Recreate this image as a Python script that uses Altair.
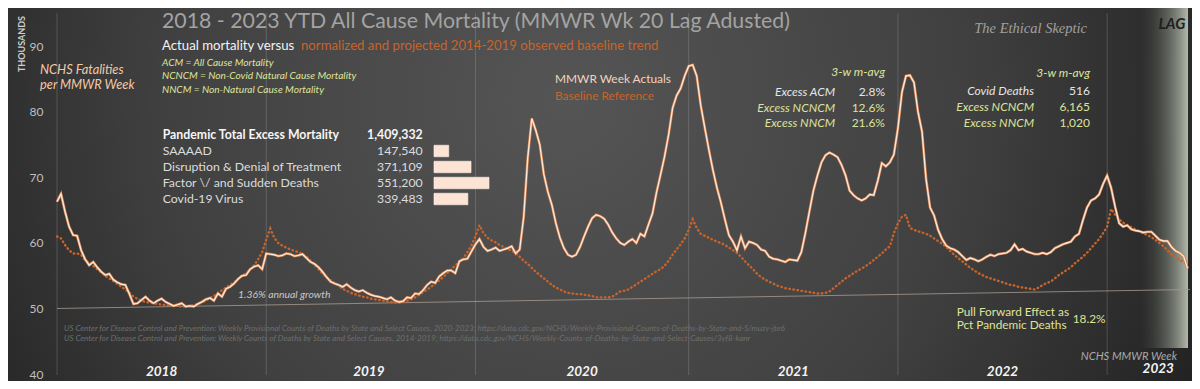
import altair as alt
import pandas as pd

# ---------------- data (thousands of deaths per MMWR week) ----------------
actual_2018 = [66.3, 67.5, 64.8, 62.5, 61.2, 61.1, 58.9, 57.5, 56.6, 57.1,
               56.3, 55.6, 55.1, 55.3, 54.4, 54.0, 53.7, 53.6, 52.2, 50.7,
               50.8, 51.3, 51.8, 51.2, 50.8, 51.2, 51.5, 51.0, 50.7, 50.4,
               50.6, 50.8, 50.3, 50.4, 50.3, 50.7, 51.0, 51.4, 51.6, 51.2,
               52.3, 51.8, 53.0, 53.3, 53.8, 54.5, 55.0, 55.1, 56.0, 56.4,
               56.6, 56.0]
actual_2019 = [58.4, 58.3, 58.2, 58.0, 58.1, 58.4, 58.3, 58.0, 58.1, 58.3,
               57.7, 57.1, 56.8, 56.3, 55.6, 54.8, 54.1, 53.8, 53.6, 53.3,
               53.7, 53.2, 52.8, 52.6, 52.8, 52.4, 52.1, 51.9, 51.8, 51.6,
               51.4, 51.7, 51.2, 51.0, 51.1, 51.7, 51.6, 52.3, 52.2, 52.8,
               53.6, 54.1, 53.9, 54.9, 55.4, 55.8, 55.8, 55.4, 57.2, 57.5,
               57.6, 58.7]
actual_2020 = [59.8, 60.6, 59.4, 58.8, 59.0, 59.3, 58.8, 59.0, 59.2, 59.5,
               58.4, 59.0, 64.0, 73.0, 79.0, 77.2, 75.0, 70.5, 67.8, 65.8,
               63.0, 60.8, 59.2, 58.2, 57.9, 58.2, 59.4, 61.0, 62.5, 63.8,
               64.3, 64.1, 63.7, 62.8, 61.6, 60.7, 60.0, 59.7, 60.2, 60.6,
               60.0, 61.4, 61.0, 62.8, 64.5, 67.7, 70.4, 73.2, 76.5, 80.6,
               82.5, 83.6, 85.5]
actual_2021 = [87.0, 87.2, 85.5, 81.0, 77.6, 74.3, 71.2, 68.5, 66.2, 63.6,
               61.2, 60.2, 58.9, 61.0, 59.2, 60.2, 60.0, 59.7, 59.0, 58.8,
               57.9, 57.6, 57.5, 57.3, 57.1, 57.5, 57.4, 57.3, 58.6, 61.5,
               64.8, 68.0, 70.3, 72.3, 73.4, 73.8, 73.5, 73.1, 71.9, 70.3,
               68.0, 67.3, 66.8, 66.5, 66.8, 67.4, 67.3, 69.5, 72.2, 71.7,
               72.3, 73.5]
actual_2022 = [77.5, 83.0, 85.5, 85.6, 84.5, 80.0, 77.0, 69.8, 65.4, 64.2,
               62.0, 60.6, 59.6, 59.2, 59.0, 58.6, 58.0, 57.4, 57.7, 57.5,
               57.2, 57.5, 57.9, 58.2, 58.0, 58.3, 58.4, 58.5, 58.9, 59.8,
               58.9, 59.1, 58.7, 58.5, 58.3, 58.3, 58.5, 58.3, 58.6, 59.2,
               59.5, 59.8, 60.0, 60.2, 61.0, 61.4, 63.5, 65.4, 66.5, 66.8,
               67.4, 69.0]
actual_2023 = [70.3, 68.4, 65.5, 63.0, 62.5, 62.7, 62.1, 61.9, 61.8, 61.6,
               61.7, 61.7, 61.1, 60.5, 60.3, 60.3, 59.4, 58.8, 58.5, 58.0,
               56.1]

baseline_2018 = [61.0, 60.7, 59.7, 58.9, 58.4, 58.4, 58.2, 57.4, 57.0, 56.5,
                 56.0, 55.5, 55.0, 54.6, 54.2, 53.8, 53.3, 52.9, 52.4, 51.8,
                 51.5, 51.2, 51.0, 50.9, 50.8, 50.7, 50.6, 50.5, 50.5, 50.4,
                 50.4, 50.3, 50.3, 50.4, 50.5, 50.7, 50.9, 51.2, 51.6, 51.9,
                 52.3, 52.8, 53.2, 53.6, 54.0, 54.5, 55.0, 55.4, 55.9, 56.6,
                 57.5, 58.6]
baseline_2019 = [60.5, 62.2, 60.8, 60.0, 59.6, 59.3, 59.0, 58.8, 58.6, 58.3,
                 57.9, 57.3, 56.7, 56.0, 55.3, 54.8, 54.3, 53.9, 53.5, 53.0,
                 52.7, 52.4, 52.2, 52.0, 51.8, 51.7, 51.5, 51.4, 51.3, 51.2,
                 51.1, 51.0, 50.9, 50.9, 51.0, 51.2, 51.4, 51.7, 52.1, 52.5,
                 52.9, 53.3, 53.8, 54.3, 54.8, 55.4, 56.0, 56.6, 57.1, 57.7,
                 58.6, 59.6]
baseline_2020 = [61.0, 62.7, 61.5, 60.8, 60.4, 60.1, 59.7, 59.4, 59.1, 58.8,
                 58.5, 57.9, 57.3, 56.8, 56.2, 55.6, 55.1, 54.6, 54.1, 53.6,
                 53.2, 52.9, 52.6, 52.4, 52.3, 52.2, 52.2, 52.1, 52.0, 51.9,
                 51.7, 51.7, 51.7, 51.7, 51.8, 52.2, 52.6, 52.7, 52.9, 53.3,
                 53.7, 54.1, 54.5, 54.9, 55.3, 55.7, 56.0, 56.5, 57.3, 58.2,
                 59.0, 59.8, 60.7]
baseline_2021 = [62.0, 63.6, 62.3, 61.4, 61.1, 60.8, 60.5, 60.2, 60.0, 59.7,
                 59.3, 58.9, 58.5, 57.9, 57.2, 56.6, 56.0, 55.3, 54.8, 54.4,
                 54.1, 53.8, 53.5, 53.3, 53.1, 53.0, 52.9, 52.8, 52.7, 52.6,
                 52.5, 52.4, 52.3, 52.3, 52.4, 52.6, 53.1, 53.6, 54.1, 54.6,
                 55.0, 55.4, 55.8, 56.1, 56.5, 56.9, 57.4, 57.9, 58.4, 59.0,
                 59.5, 61.5]
baseline_2022 = [63.0, 64.0, 64.3, 62.3, 62.0, 61.8, 61.6, 61.4, 61.1, 60.7,
                 60.3, 59.9, 59.4, 58.8, 58.2, 57.7, 57.2, 56.7, 56.2, 55.8,
                 55.4, 55.1, 54.8, 54.6, 54.4, 54.2, 54.0, 53.8, 53.6, 53.5,
                 53.3, 53.2, 53.1, 53.0, 52.9, 53.2, 53.6, 53.9, 54.1, 54.6,
                 55.1, 55.5, 55.9, 56.3, 56.9, 57.4, 57.9, 58.5, 59.2, 59.9,
                 60.6, 61.5]
baseline_2023 = [62.5, 65.2, 64.3, 63.6, 63.1, 62.7, 62.4, 62.1, 61.8, 61.5,
                 61.2, 60.9, 60.5, 60.0, 59.5, 58.9, 58.3, 57.8, 57.4, 57.1,
                 56.9]

actual = actual_2018 + actual_2019 + actual_2020 + actual_2021 + actual_2022 + actual_2023
baseline = baseline_2018 + baseline_2019 + baseline_2020 + baseline_2021 + baseline_2022 + baseline_2023
week_index = list(range(len(actual)))

year_names = ["2018", "2019", "2020", "2021", "2022"]
year_label_week = [26, 77.5, 130.5, 183, 235]
last_year_name = ["2023"]
last_year_label_week = [273.7]
year_start_week = [0, 52, 104, 157, 209, 261]

trend_week = [0, 281.6]
trend_value = [50.0, 52.9]

breakdown_labels = ["SAAAAD", "Disruption & Denial of Treatment",
                    "Factor \\/ and Sudden Deaths", "Covid-19 Virus"]
breakdown_values = [147540, 371109, 551200, 339483]
breakdown_rows = [1, 2, 3, 4]
total_label = ["Pandemic Total  Excess Mortality"]
total_value = [1409332]

# ---------------- layout ----------------
W, H = 1133, 364
XDOM = [0, 281.6]
YDOM = [40, 95.57]
FONT = "Lato"
YG = "#dfe39a"   # yellow-green annotation colour
ORANGE = "#c8642a"

series = pd.DataFrame({"week": week_index, "actual": actual, "baseline": baseline})
years_df = pd.DataFrame({"week": year_label_week, "name": year_names})
last_year_df = pd.DataFrame({"week": last_year_label_week, "name": last_year_name})
grid_df = pd.DataFrame({"week": year_start_week})
trend_df = pd.DataFrame({"week": trend_week, "value": trend_value})
one = pd.DataFrame({"k": [0]})

xs = alt.Scale(domain=XDOM, nice=False, zero=False)
ys = alt.Scale(domain=YDOM, nice=False, zero=False)
y_axis = alt.Axis(values=[40, 50, 60, 70, 80, 90], title=None, domain=False,
                  ticks=False, grid=False, labelColor="#bfbfbf",
                  labelFontSize=12, labelFont=FONT, labelPadding=14, zindex=1)


def label(text, x, y, size=13, color="#e0e0e0", align="left", italic=False,
          bold=False, font=FONT, angle=None):
    kw = dict(text=text, fontSize=size, color=color, align=align,
              baseline="middle", font=font)
    if italic:
        kw["fontStyle"] = "italic"
    if bold:
        kw["fontWeight"] = "bold"
    if angle is not None:
        kw["angle"] = angle
    return alt.Chart(one).mark_text(**kw).encode(x=alt.value(x), y=alt.value(y))


bg = alt.Chart(one).mark_rect(
    fill=alt.Gradient(gradient="radial",
                      stops=[alt.GradientStop(color="#555555", offset=0),
                             alt.GradientStop(color="#404040", offset=0.55),
                             alt.GradientStop(color="#1e1e1e", offset=1)],
                      x1=0.47, y1=0.42, r1=0, x2=0.47, y2=0.42, r2=0.62)
).encode(x=alt.value(-49), x2=alt.value(W + 2), y=alt.value(-2), y2=alt.value(H + 7))

lag = alt.Chart(one).mark_rect(
    fill=alt.Gradient(gradient="linear",
                      stops=[alt.GradientStop(color="rgba(70,72,68,0)", offset=0),
                             alt.GradientStop(color="rgba(120,126,116,0.6)", offset=0.55),
                             alt.GradientStop(color="#b2b8aa", offset=1)],
                      x1=0, y1=0, x2=1, y2=0)
).encode(x=alt.value(1083), x2=alt.value(1131), y=alt.value(-2), y2=alt.value(338))

grid = alt.Chart(grid_df).mark_rule(color="rgba(255,255,255,0.16)", strokeWidth=1).encode(
    x=alt.X("week:Q", scale=xs, axis=None), y=alt.value(3), y2=alt.value(365))

trend = alt.Chart(trend_df).mark_line(color="#a89a8e", strokeWidth=1, opacity=0.8).encode(
    x=alt.X("week:Q", scale=xs, axis=None),
    y=alt.Y("value:Q", scale=ys, axis=y_axis))

base_line = alt.Chart(series).mark_line(
    color=ORANGE, strokeWidth=2.4, strokeDash=[0.5, 3.6], strokeCap="round"
).encode(x=alt.X("week:Q", scale=xs, axis=None),
         y=alt.Y("baseline:Q", scale=ys, axis=y_axis))

act_under = alt.Chart(series).mark_line(color="#c87a4a", strokeWidth=2.7).encode(
    x=alt.X("week:Q", scale=xs, axis=None),
    y=alt.Y("actual:Q", scale=ys, axis=y_axis))

act = alt.Chart(series).mark_line(color="#fde6d6", strokeWidth=1.4).encode(
    x=alt.X("week:Q", scale=xs, axis=None),
    y=alt.Y("actual:Q", scale=ys, axis=y_axis))

year_txt = alt.Chart(years_df).mark_text(
    font=FONT, fontSize=13.5, fontWeight="bold", fontStyle="italic", color="#f4f4f4",
    baseline="middle").encode(x=alt.X("week:Q", scale=xs, axis=None), y=alt.value(362),
                              text="name:N")
last_year_txt = alt.Chart(last_year_df).mark_text(
    font=FONT, fontSize=13.5, fontWeight="bold", fontStyle="italic", color="#f4f4f4",
    baseline="middle").encode(x=alt.X("week:Q", scale=xs, axis=None), y=alt.value(359),
                              text="name:N")

texts = [
    label("2018 - 2023 YTD All Cause Mortality (MMWR Wk 20 Lag Adusted)", 105, 12,
          size=21.3, color="#a3a3a3"),
    label("Actual mortality versus", 105, 36, size=13.2, color="#f2f2f2"),
    label("normalized  and projected 2014-2019 observed baseline trend", 244, 36,
          size=13.2, color=ORANGE),
    label("ACM = All Cause Mortality", 105, 52.7, size=10.1, color=YG, italic=True),
    label("NCNCM = Non-Covid Natural Cause Mortality", 105, 66, size=10.1, color=YG, italic=True),
    label("NNCM = Non-Natural Cause Mortality", 105, 79.5, size=10.1, color=YG, italic=True),
    label("NCHS Fatalities", -17, 60, size=12.8, color="#f2caa6", italic=True),
    label("per MMWR Week", -17, 75, size=12.8, color="#f2caa6", italic=True),
    label("THOUSANDS", -35, 34, size=9, color="#cfcfcf", bold=True, align="center", angle=270),
    label("MMWR Week Actuals", 498, 69, size=11.9, color="#f1d3bf"),
    label("Baseline Reference", 498, 85.7, size=11.9, color=ORANGE),
    label("3-w m-avg", 828, 61.7, size=12, color=YG, italic=True, align="right"),
    label("Excess ACM", 778, 81.7, size=12, color="#e6e6e6", italic=True, align="right"),
    label("2.8%", 828, 81.7, size=12, color="#e6e6e6", align="right"),
    label("Excess NCNCM", 778, 97.7, size=12, color=YG, italic=True, align="right"),
    label("12.6%", 828, 97.7, size=12, color=YG, align="right"),
    label("Excess NNCM", 778, 113.3, size=12, color=YG, italic=True, align="right"),
    label("21.6%", 828, 113.3, size=12, color=YG, align="right"),
    label("3-w m-avg", 1033, 62.7, size=12, color=YG, italic=True, align="right"),
    label("Covid Deaths", 977, 80.7, size=12, color="#e6e6e6", italic=True, align="right"),
    label("516", 1033, 80.7, size=12, color="#e6e6e6", align="right"),
    label("Excess NCNCM", 977, 97.3, size=12, color=YG, italic=True, align="right"),
    label("6,165", 1033, 97.3, size=12, color=YG, align="right"),
    label("Excess NNCM", 977, 112.7, size=12, color=YG, italic=True, align="right"),
    label("1,020", 1033, 112.7, size=12, color=YG, align="right"),
    label("The Ethical Skeptic", 1030, 19, size=14.5, color="#a0a0a0", italic=True,
          align="right", font="Liberation Serif"),
    label("LAG", 1115, 14, size=15, color="#1e1e1e", italic=True, bold=True, align="center"),
    label("1.36% annual growth", 181, 285, size=10.4, color="#c9c9c9", italic=True),
    label("US Center for Disease Control and Prevention: Weekly  Provisional Counts of Deaths by State and Select Causes, 2020-2023; https://data.cdc.gov/NCHS/Weekly-Provisional-Counts-of-Deaths-by-State-and-S/muzy-jte6",
          7, 319.3, size=8, color="#6e6e6e", italic=True),
    label("US Center for Disease Control and Prevention: Weekly  Counts of Deaths by State and Select Causes, 2014-2019; https://data.cdc.gov/NCHS/Weekly-Counts-of-Deaths-by-State-and-Select-Causes/3yf8-kanr",
          7, 329, size=8, color="#6e6e6e", italic=True),
    label("Pull Forward Effect as", 899.7, 301.7, size=11.8, color=YG),
    label("Pct Pandemic Deaths", 899.7, 315, size=11.8, color=YG),
    label("18.2%", 1015.7, 309.3, size=11.8, color=YG),
    label("NCHS MMWR Week", 1120, 347, size=11.2, color="#ababab", italic=True, align="right"),
]

main = alt.layer(bg, lag, grid, trend, base_line, act_under, act, year_txt, last_year_txt, *texts)

# ---------------- pandemic excess table with bars ----------------
tbl = pd.DataFrame({"row": breakdown_rows, "label": breakdown_labels, "deaths": breakdown_values})
hdr = pd.DataFrame({"row": [0], "label": total_label, "deaths": total_value})
rs = alt.Scale(domain=[0, 4], range=[125, 189], nice=False, zero=False, padding=0)
bs = alt.Scale(domain=[0, 551200], range=[377, 432], nice=False, zero=False, padding=0)
TS = 12.3

bars = alt.Chart(tbl).mark_bar(height=11.5, color="#fce3d4", stroke="#fff3ea", strokeWidth=0.6).encode(
    x=alt.X("deaths:Q", scale=bs, axis=None), x2=alt.datum(0),
    y=alt.Y("row:Q", scale=rs, axis=None))
row_lbl = alt.Chart(tbl).mark_text(font=FONT, fontSize=TS, color="#dcdcdc", align="left",
                                   baseline="middle").encode(
    x=alt.value(105.7), y=alt.Y("row:Q", scale=rs, axis=None), text="label:N")
row_val = alt.Chart(tbl).mark_text(font=FONT, fontSize=TS, color="#dcdcdc", align="right",
                                   baseline="middle").encode(
    x=alt.value(365.7), y=alt.Y("row:Q", scale=rs, axis=None),
    text=alt.Text("deaths:Q", format=","))
hdr_lbl = alt.Chart(hdr).mark_text(font=FONT, fontSize=TS, fontWeight="bold", color="#f5f5f5",
                                   align="left", baseline="middle").encode(
    x=alt.value(105.7), y=alt.Y("row:Q", scale=rs, axis=None), text="label:N")
hdr_val = alt.Chart(hdr).mark_text(font=FONT, fontSize=TS, fontWeight="bold", color="#f5f5f5",
                                   align="right", baseline="middle").encode(
    x=alt.value(365.7), y=alt.Y("row:Q", scale=rs, axis=None),
    text=alt.Text("deaths:Q", format=","))

table = alt.layer(bars, row_lbl, row_val, hdr_lbl, hdr_val)

chart = alt.layer(main, table).resolve_scale(x="independent", y="independent").properties(
    width=W, height=H,
    padding={"left": 49, "top": 2, "right": 2, "bottom": 7},
    autosize=alt.AutoSizeParams(type="none"),
    background="#242424",
).configure_view(strokeWidth=0)

chart.save("out.html", embed_options={"renderer": "svg", "actions": False})
